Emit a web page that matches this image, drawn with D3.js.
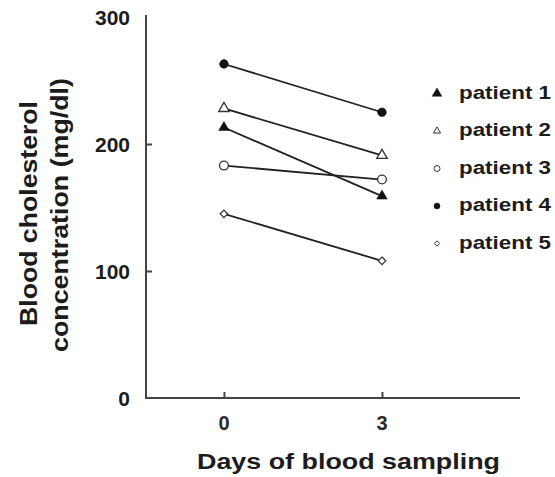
<!DOCTYPE html>
<html><head><meta charset="utf-8">
<script src="https://cdn.jsdelivr.net/npm/d3@7"></script>
<style>body{margin:0;background:#fff}svg{display:block}</style>
</head><body>
<svg id="c" width="555" height="477"></svg>
<script>
const days = [0, 3];
const patients = ["patient 1", "patient 2", "patient 3", "patient 4", "patient 5"];
const symbolsKind = ["triangleFilled", "triangleOpen", "circleOpen", "circleFilled", "diamondOpen"];
const p1 = [213, 159];
const p2 = [228, 191];
const p3 = [183, 172];
const p4 = [263, 225];
const p5 = [145, 108];
const series = [p1, p2, p3, p4, p5];
const yTicks = [0, 100, 200, 300];
const xTicks = [0, 3];

const svg = d3.select("#c");
const x = d3.scaleLinear().domain([-1.48, 5.62]).range([146, 520]);
const y = d3.scaleLinear().domain([0, 300]).range([398, 17]);
const axisColor = "#444";
const ink = "#1c1c1c";
const font = "Liberation Sans, Arial, sans-serif";

// axes
const ya = svg.append("g").attr("transform", "translate(146,0)")
  .call(d3.axisRight(y).tickValues(yTicks).tickSize(6).tickFormat(""));
ya.select(".domain").attr("d", `M0,${y(300)-2}V${y(0)}`).attr("stroke", axisColor).attr("stroke-width", 2);
ya.selectAll(".tick line").attr("stroke", axisColor).attr("stroke-width", 2);
ya.selectAll(".tick").filter(d => d === 300 || d === 0).select("line").remove();

const xa = svg.append("g").attr("transform", "translate(0,398)")
  .call(d3.axisTop(x).tickValues(xTicks).tickSize(6).tickFormat(""));
xa.select(".domain").attr("d", `M145,0H520`).attr("stroke", axisColor).attr("stroke-width", 2);
xa.selectAll(".tick line").attr("stroke", axisColor).attr("stroke-width", 2);

// tick labels
svg.append("g").selectAll("text").data(yTicks).join("text")
  .attr("x", 130).attr("y", d => y(d) + 7.5)
  .attr("text-anchor", "end").attr("font-family", font).attr("font-weight", "bold")
  .attr("font-size", 21).attr("fill", ink).text(d => d);
svg.append("g").selectAll("text").data(xTicks).join("text")
  .attr("x", d => x(d)).attr("y", 430)
  .attr("text-anchor", "middle").attr("font-family", font).attr("font-weight", "bold")
  .attr("font-size", 20).attr("fill", "#2a2a2a").text(d => d);

// titles
svg.append("text").attr("x", 197).attr("y", 469)
  .attr("font-family", font).attr("font-weight", "bold")
  .attr("font-size", 22).attr("fill", ink)
  .attr("textLength", 303).attr("lengthAdjust", "spacingAndGlyphs")
  .text("Days of blood sampling");
const yt = svg.append("g").attr("transform", "translate(0,213) rotate(-90)");
yt.append("text").attr("x", -113).attr("y", 37)
  .attr("font-family", font).attr("font-weight", "bold").attr("font-size", 23).attr("fill", ink)
  .attr("textLength", 225).attr("lengthAdjust", "spacingAndGlyphs")
  .text("Blood cholesterol");
yt.append("text").attr("x", -139).attr("y", 68)
  .attr("font-family", font).attr("font-weight", "bold").attr("font-size", 23).attr("fill", ink)
  .attr("textLength", 274).attr("lengthAdjust", "spacingAndGlyphs")
  .text("concentration (mg/dl)");

// marker drawing
function marker(g, kind, size, sw) {
  const filled = kind.endsWith("Filled");
  let type = d3.symbolCircle;
  if (kind.startsWith("triangle")) type = d3.symbolTriangle;
  if (kind.startsWith("diamond")) type = d3.symbolDiamond2;
  g.append("path").attr("d", d3.symbol().type(type).size(size)())
    .attr("fill", filled ? "#111" : "#fff").attr("stroke", filled ? "#111" : "#333")
    .attr("stroke-width", filled ? 0.5 : sw);
}

// lines and markers
const line = d3.line().x((d, i) => x(days[i])).y(d => y(d));
series.forEach((s, k) => {
  svg.append("path").attr("d", line(s)).attr("fill", "none").attr("stroke", "#222").attr("stroke-width", 1.8);
});
series.forEach((s, k) => {
  s.forEach((v, i) => {
    const g = svg.append("g").attr("transform", `translate(${x(days[i])},${y(v)})`);
    const kind = symbolsKind[k];
    const sz = kind.startsWith("diamond") ? 36 : kind.startsWith("triangle") ? 48 : 60;
    marker(g, kind, sz, 1.3);
  });
});

// legend
patients.forEach((p, k) => {
  const base = 98.5 + k * 37.5;
  const kind = symbolsKind[k];
  const g = svg.append("g").attr("transform", `translate(437,${base - 5})`);
  const sz = kind === "triangleFilled" ? 40 : kind.startsWith("triangle") ? 22 : kind.startsWith("diamond") ? 18 : 28;
  marker(g, kind, sz, 1);
  svg.append("text").attr("x", 459).attr("y", base)
    .attr("font-family", font).attr("font-weight", "bold").attr("font-size", 18)
    .attr("fill", ink).attr("textLength", 92).attr("lengthAdjust", "spacingAndGlyphs").text(p);
});
</script>
</body></html>
